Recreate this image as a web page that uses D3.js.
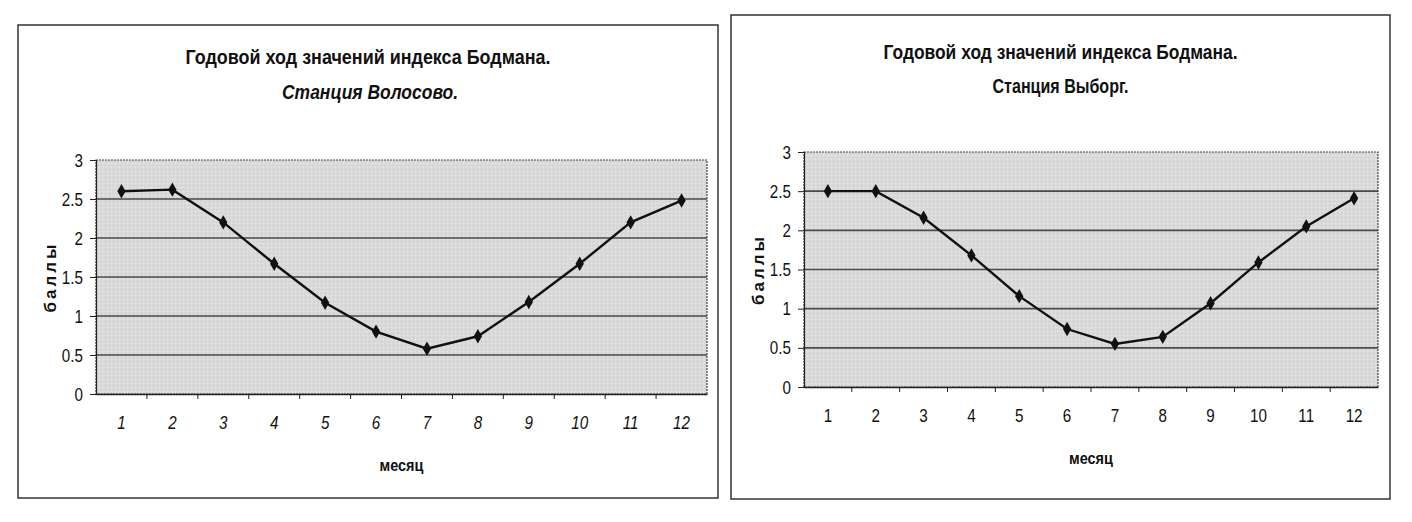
<!DOCTYPE html>
<meta charset="utf-8">
<head>
<style>
  body { margin: 0; background: #fff; }
  svg text { font-family: "Liberation Sans Narrow", "Arial Narrow", "Liberation Sans", sans-serif; fill: #111; }
</style>
</head>
<body>
<div id="chart"></div>
<script src="https://cdn.jsdelivr.net/npm/d3@7"></script>
<script>
// data
const months = [1, 2, 3, 4, 5, 6, 7, 8, 9, 10, 11, 12];
const volosovo = [2.6, 2.62, 2.2, 1.67, 1.17, 0.8, 0.58, 0.74, 1.18, 1.67, 2.2, 2.48];
const vyborg = [2.5, 2.5, 2.16, 1.68, 1.16, 0.74, 0.55, 0.64, 1.07, 1.59, 2.05, 2.41];
const yTicks = [0, 0.5, 1, 1.5, 2, 2.5, 3];
const titleMain = "Годовой ход значений индекса Бодмана.";
const stations = ["Станция Волосово.", "Станция Выборг."];
const xTitle = "месяц";
const yTitle = "баллы";

const W = 1412, H = 522;
const svg = d3.select("#chart").append("svg")
    .attr("width", W).attr("height", H);

// stipple used for the plot area
const defs = svg.append("defs");
const pat = defs.append("pattern")
    .attr("id", "stip").attr("patternUnits", "userSpaceOnUse")
    .attr("width", 4).attr("height", 4);
pat.append("rect").attr("width", 4).attr("height", 4).attr("fill", "#dadada");
pat.append("rect").attr("x", 1).attr("y", 1).attr("width", 1).attr("height", 1).attr("fill", "#c9c9c9");
pat.append("rect").attr("x", 3).attr("y", 3).attr("width", 1).attr("height", 1).attr("fill", "#e6e6e6");

// the scan uses a narrow face; squeeze the glyphs instead
function narrow(sel, k) {
    sel.each(function () {
        const len = this.getComputedTextLength();
        d3.select(this).attr("textLength", len * k).attr("lengthAdjust", "spacingAndGlyphs");
    });
}

function drawChart(c) {
    const g = svg.append("g");

    // outer frame
    g.append("rect")
        .attr("x", c.box[0]).attr("y", c.box[1])
        .attr("width", c.box[2] - c.box[0]).attr("height", c.box[3] - c.box[1])
        .attr("fill", "#fff").attr("stroke", "#333").attr("stroke-width", 1.5);

    const x = d3.scaleBand().domain(months).range([c.plot[0], c.plot[2]]);
    const y = d3.scaleLinear().domain([0, 3]).range([c.plot[3], c.plot[1]]);

    // plot area
    g.append("rect")
        .attr("x", c.plot[0]).attr("y", c.plot[1])
        .attr("width", c.plot[2] - c.plot[0]).attr("height", c.plot[3] - c.plot[1])
        .attr("fill", "url(#stip)")
        .attr("stroke", "#444").attr("stroke-width", 1.2).attr("stroke-dasharray", "2,1");

    // grid
    g.append("g").selectAll("line")
        .data(yTicks.filter(v => v > 0 && v < 3))
        .join("line")
        .attr("x1", c.plot[0]).attr("x2", c.plot[2])
        .attr("y1", d => y(d)).attr("y2", d => y(d))
        .attr("stroke", "#4a4a4a").attr("stroke-width", 1.7);

    // y axis
    const ya = g.append("g")
        .attr("transform", `translate(${c.plot[0]},0)`)
        .call(d3.axisLeft(y).tickValues(yTicks).tickSize(6).tickPadding(7)
            .tickFormat(d => String(d)));
    ya.select(".domain").attr("stroke", "#222").attr("stroke-width", 1.2);
    ya.selectAll(".tick line").attr("stroke", "#222");
    ya.selectAll("text").attr("font-size", 19).attr("fill", "#111")
        .attr("font-family", "Liberation Sans Narrow, Arial Narrow, Liberation Sans, sans-serif")
        .call(narrow, 0.8);

    // x axis, ticks between categories
    const xa = g.append("g")
        .attr("transform", `translate(0,${c.plot[3]})`)
        .call(d3.axisBottom(x).tickSize(0).tickPadding(c.xPad));
    xa.select(".domain").attr("stroke", "#222").attr("stroke-width", 1.6);
    xa.selectAll("text").attr("font-size", 19).attr("fill", "#111")
        .attr("font-style", c.italicTicks ? "italic" : "normal")
        .attr("font-family", "Liberation Sans Narrow, Arial Narrow, Liberation Sans, sans-serif")
        .call(narrow, 0.8);
    xa.append("g").selectAll("line")
        .data(months.slice(1))
        .join("line")
        .attr("x1", d => x(d)).attr("x2", d => x(d))
        .attr("y1", 0).attr("y2", 5)
        .attr("stroke", "#222");

    // series
    const line = d3.line()
        .x((d, i) => x(months[i]) + x.bandwidth() / 2)
        .y(d => y(d));
    g.append("path").datum(c.values)
        .attr("d", line)
        .attr("fill", "none").attr("stroke", "#111").attr("stroke-width", 2.4);
    g.append("g").selectAll("path")
        .data(c.values)
        .join("path")
        .attr("d", d3.symbol(d3.symbolDiamond, 60))
        .attr("transform", (d, i) => `translate(${x(months[i]) + x.bandwidth() / 2},${y(d)})`)
        .attr("fill", "#111");

    // titles
    const cx = (c.box[0] + c.box[2]) / 2;
    g.append("text")
        .attr("x", cx).attr("y", c.t1y)
        .attr("text-anchor", "middle").attr("font-size", 21).attr("font-weight", "bold")
        .attr("textLength", c.t1w).attr("lengthAdjust", "spacingAndGlyphs")
        .text(titleMain);
    g.append("text")
        .attr("x", cx + c.t2dx).attr("y", c.t2y)
        .attr("text-anchor", "middle").attr("font-size", 21).attr("font-weight", "bold")
        .attr("font-style", c.italicSub ? "italic" : "normal")
        .attr("textLength", c.t2w).attr("lengthAdjust", "spacingAndGlyphs")
        .text(c.station);

    const pcx = (c.plot[0] + c.plot[2]) / 2, pcy = (c.plot[1] + c.plot[3]) / 2;
    g.append("text")
        .attr("x", pcx).attr("y", c.xty)
        .attr("text-anchor", "middle").attr("font-size", 17).attr("font-weight", "bold")
        .text(xTitle)
        .call(narrow, 0.85);
    g.append("text")
        .attr("transform", `translate(${c.ytx},${pcy}) rotate(-90)`)
        .attr("text-anchor", "middle").attr("font-size", 17).attr("font-weight", "bold")
        .attr("letter-spacing", 3)
        .text(yTitle);
}

drawChart({
    box: [18, 25, 718, 498], plot: [96, 160, 707, 394],
    values: volosovo, station: stations[0],
    t1y: 64, t1w: 365, t2y: 99, t2w: 176, t2dx: 2, italicSub: true,
    italicTicks: true, xPad: 22, xty: 471, ytx: 56
});
drawChart({
    box: [731, 15, 1390, 499], plot: [804, 152, 1378, 387],
    values: vyborg, station: stations[1],
    t1y: 59, t1w: 354, t2y: 93, t2w: 136, t2dx: 0, italicSub: false,
    italicTicks: false, xPad: 22, xty: 464, ytx: 764
});
</script>
</body>
